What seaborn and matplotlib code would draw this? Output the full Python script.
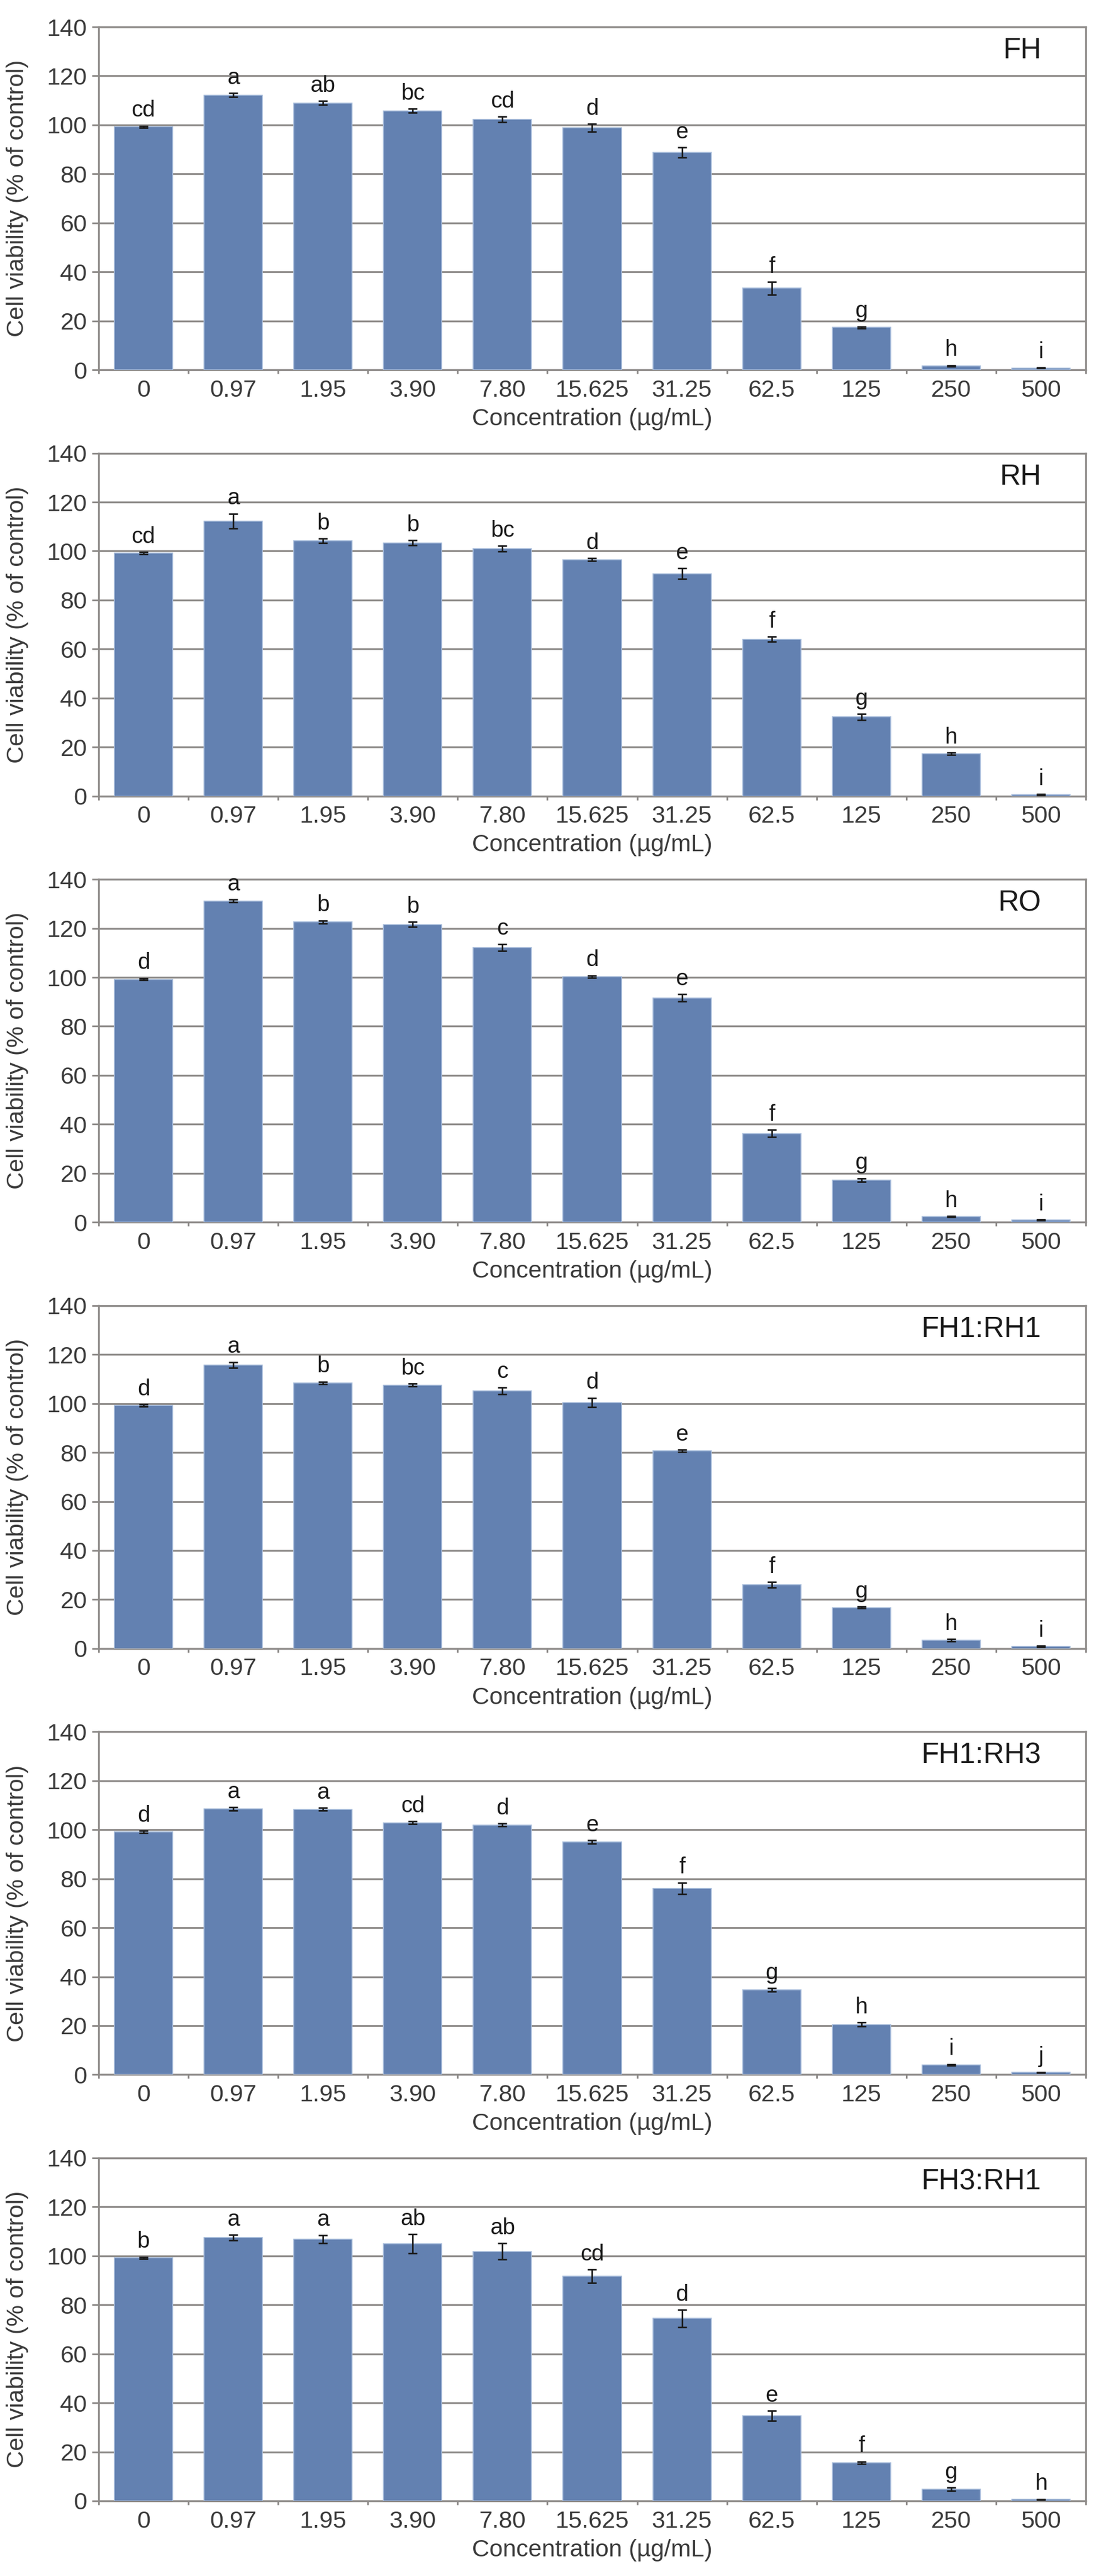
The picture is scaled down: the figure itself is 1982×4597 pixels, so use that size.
"""
Cell viability bar panels (6 extracts) — seaborn barplot + manual error bars / letters.
"""

import numpy as np
import pandas as pd
import matplotlib
matplotlib.use("Agg")
import matplotlib.pyplot as plt
import seaborn as sns

# -----------------------------
# data
# -----------------------------
concentrations = ["0", "0.97", "1.95", "3.90", "7.80", "15.625", "31.25", "62.5", "125", "250", "500"]

panel_names = ["FH", "RH", "RO", "FH1:RH1", "FH1:RH3", "FH3:RH1"]

fh_mean = [99.2, 112.2, 109.0, 105.8, 102.2, 98.8, 88.7, 33.3, 17.3, 1.6, 0.8]
fh_err = [0.4, 0.8, 0.7, 0.7, 1.1, 1.6, 2.1, 2.6, 0.4, 0.3, 0.2]
fh_letters = ["cd", "a", "ab", "bc", "cd", "d", "e", "f", "g", "h", "i"]

rh_mean = [99.2, 112.3, 104.2, 103.4, 101.0, 96.5, 90.8, 64.0, 32.3, 17.3, 0.6]
rh_err = [0.4, 3.0, 0.9, 1.0, 1.1, 0.6, 2.2, 1.0, 1.2, 0.4, 0.2]
rh_letters = ["cd", "a", "b", "b", "bc", "d", "e", "f", "g", "h", "i"]

ro_mean = [99.2, 131.2, 122.6, 121.6, 112.2, 100.3, 91.6, 36.3, 17.3, 2.3, 0.9]
ro_err = [0.4, 0.6, 0.6, 1.0, 1.4, 0.5, 1.5, 1.5, 0.7, 0.3, 0.2]
ro_letters = ["d", "a", "b", "b", "c", "d", "e", "f", "g", "h", "i"]

fh1rh1_mean = [99.2, 115.7, 108.4, 107.5, 105.2, 100.4, 80.7, 26.0, 16.7, 3.4, 0.9]
fh1rh1_err = [0.4, 1.2, 0.5, 0.6, 1.4, 1.9, 0.5, 1.2, 0.3, 0.4, 0.2]
fh1rh1_letters = ["d", "a", "b", "bc", "c", "d", "e", "f", "g", "h", "i"]

fh1rh3_mean = [99.2, 108.5, 108.4, 102.9, 102.0, 95.0, 76.1, 34.6, 20.5, 4.0, 0.9]
fh1rh3_err = [0.4, 0.6, 0.6, 0.6, 0.6, 0.7, 2.3, 0.7, 0.8, 0.3, 0.2]
fh1rh3_letters = ["d", "a", "a", "cd", "d", "e", "f", "g", "h", "i", "j"]

fh3rh1_mean = [99.2, 107.5, 106.9, 105.0, 101.9, 91.7, 74.5, 34.8, 15.6, 4.8, 0.6]
fh3rh1_err = [0.4, 1.1, 1.6, 3.8, 3.3, 2.7, 3.5, 2.0, 0.5, 0.7, 0.2]
fh3rh1_letters = ["b", "a", "a", "ab", "ab", "cd", "d", "e", "f", "g", "h"]

y_ticks = [0, 20, 40, 60, 80, 100, 120, 140]

# -----------------------------
# style
# -----------------------------
BAR_COLOR = "#6381b1"
BAR_EDGE = "#a8bddc"
GRID_COLOR = "#8e8b89"
TEXT_COLOR = "#3a3a3a"

sns.set_theme(style="white")
plt.rcParams["font.family"] = ["Liberation Sans", "DejaVu Sans"]

W, H, DPI = 1983, 4597, 100
AX_LEFT, AX_RIGHT = 176, 1937
AX_TOP0, AX_STEP, AX_H = 48, 760.6, 612


def build_frame(means, errs, letters):
    return pd.DataFrame({
        "conc": concentrations,
        "viability": means,
        "err": errs,
        "letter": letters,
    })


def draw_panel(ax, df, name):
    sns.barplot(data=df, x="conc", y="viability", order=concentrations,
                color=BAR_COLOR, width=0.65, errorbar=None, saturation=1,
                edgecolor=BAR_EDGE, linewidth=1.2, zorder=3, ax=ax)

    centers = [p.get_x() + p.get_width() / 2 for p in ax.patches]
    ax.errorbar(centers, df["viability"], yerr=df["err"], fmt="none",
                ecolor="#1a1a1a", elinewidth=2.0, capsize=6, capthick=2.0, zorder=4)

    for xc, v, e, lab in zip(centers, df["viability"], df["err"], df["letter"]):
        ax.annotate(lab, (xc, v + e), xytext=(0, 6), textcoords="offset points",
                    ha="center", va="bottom", fontsize=29, color="#1a1a1a", zorder=5)

    ax.set_xlim(-0.5, len(concentrations) - 0.5)
    ax.set_ylim(0, 140)
    ax.set_yticks(y_ticks)
    ax.yaxis.grid(True, color=GRID_COLOR, linewidth=2.4, zorder=0)
    ax.set_axisbelow(True)

    for side in ["left", "right", "bottom", "top"]:
        ax.spines[side].set_visible(True)
        ax.spines[side].set_color(GRID_COLOR)
        ax.spines[side].set_linewidth(2.4)

    ax.tick_params(axis="y", which="major", length=9, width=2.2, color=GRID_COLOR,
                   labelsize=31, labelcolor=TEXT_COLOR, pad=6, left=True)
    ax.tick_params(axis="x", which="major", length=0, labelsize=31,
                   labelcolor=TEXT_COLOR, pad=12, bottom=True)
    ax.set_xticks(np.arange(-0.5, len(concentrations)), minor=True)
    ax.tick_params(axis="x", which="minor", length=5, width=2.2, color=GRID_COLOR,
                   direction="out", bottom=True)

    ax.set_xlabel("Concentration (\u00b5g/mL)", fontsize=31, color=TEXT_COLOR, labelpad=8)
    ax.set_ylabel("Cell viability (% of control)", fontsize=31, color=TEXT_COLOR)
    ax.yaxis.set_label_coords(-0.071, 0.5)

    ax.text(0.955, 0.93, name, transform=ax.transAxes, ha="right", va="center",
            fontsize=37, color="#1a1a1a", zorder=6)


panels = [
    build_frame(fh_mean, fh_err, fh_letters),
    build_frame(rh_mean, rh_err, rh_letters),
    build_frame(ro_mean, ro_err, ro_letters),
    build_frame(fh1rh1_mean, fh1rh1_err, fh1rh1_letters),
    build_frame(fh1rh3_mean, fh1rh3_err, fh1rh3_letters),
    build_frame(fh3rh1_mean, fh3rh1_err, fh3rh1_letters),
]

fig = plt.figure(figsize=(W / DPI, H / DPI), dpi=DPI)
fig.patch.set_facecolor("white")

for i, (df, name) in enumerate(zip(panels, panel_names)):
    top_px = AX_TOP0 + i * AX_STEP
    rect = [AX_LEFT / W, 1 - (top_px + AX_H) / H, (AX_RIGHT - AX_LEFT) / W, AX_H / H]
    ax = fig.add_axes(rect)
    draw_panel(ax, df, name)

fig.savefig("out.png", dpi=DPI, facecolor="white")
